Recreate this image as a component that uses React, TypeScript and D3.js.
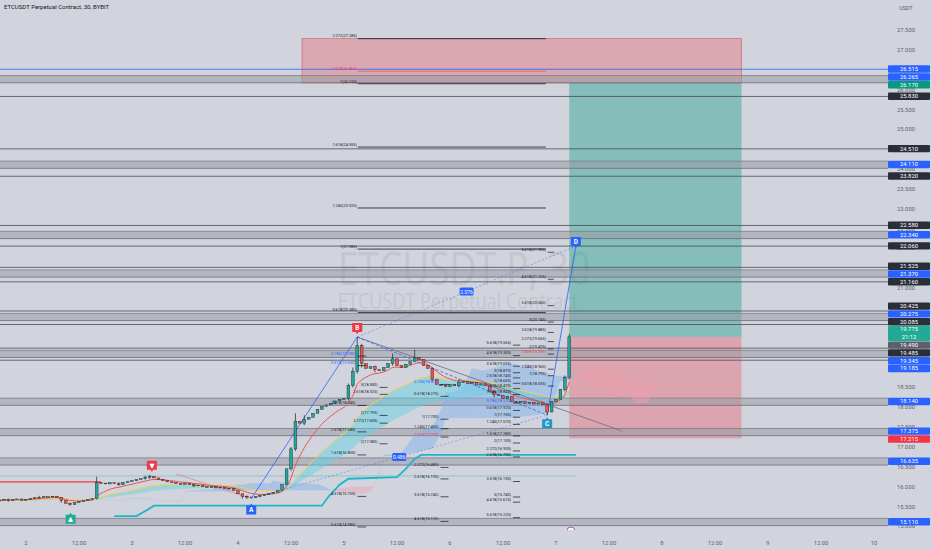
import React from "react";
import * as d3 from "d3";

const W = 932;
const H = 550;
const PLOT_R = 888;

// hourly candles, first one opens at day 1 18:00 (hour -6 counted from day 2 00:00)
const firstHour = -6;
const closes = [
  15.66, 15.68, 15.65, 15.67, 15.69, 15.66, 15.68,
  15.70, 15.72, 15.73, 15.75, 15.74, 15.76, 15.73,
  15.65, 15.58, 15.55,
  15.60, 15.63, 15.66, 15.68, 15.70,
  16.10,
  16.09, 16.07, 16.10, 16.08, 16.05, 16.11, 16.13,
  16.15, 16.18, 16.20, 16.24, 16.26, 16.22,
  16.18, 16.15, 16.12, 16.10, 16.08,
  16.06, 16.09, 16.05, 16.02, 16.04, 16.00, 15.98,
  16.01, 15.97, 15.99, 15.95, 15.96,
  15.90, 15.82, 15.76, 15.74,
  15.72, 15.75, 15.78, 15.80, 15.83, 15.86,
  15.90, 16.05, 16.45, 16.95, 17.65, 17.60, 17.70, 17.75,
  17.85, 17.95, 18.02, 18.06,
  18.10, 18.16, 18.20, 18.22,
  18.55, 18.90, 19.55, 19.10,
  18.98, 19.02, 18.95, 18.92,
  19.00, 19.10, 19.22,
  19.05, 19.00, 19.08,
  19.15, 19.25, 19.20,
  19.05, 18.98,
  18.70, 18.58, 18.55,
  18.52, 18.58, 18.54, 18.62,
  18.66, 18.60, 18.63,
  18.56, 18.59, 18.54,
  18.40, 18.32, 18.30,
  18.22, 18.28, 18.15,
  18.12, 18.14, 18.10, 18.12,
  18.08, 18.11, 18.06,
  17.88, 18.15, 18.20, 18.45, 18.75, 19.775,
];
// [candle index, high, low] where the wick goes past the body
const wicks: [number, number, number][] = [
  [2, 15.70, 15.62], [9, 15.77, 15.70], [14, 15.74, 15.60], [16, 15.60, 15.52],
  [22, 16.25, 15.68], [27, 16.11, 16.02], [33, 16.28, 16.18], [34, 16.30, 16.20],
  [44, 16.08, 15.99], [55, 15.80, 15.70], [56, 15.78, 15.69], [66, 17.00, 16.40],
  [67, 17.85, 16.90], [69, 17.80, 17.55], [79, 18.60, 18.18], [80, 19.00, 18.50],
  [81, 19.77, 18.85], [82, 19.60, 19.00], [85, 19.05, 18.88], [89, 19.35, 19.05],
  [94, 19.45, 19.15], [98, 19.00, 18.65], [104, 18.70, 18.50], [112, 18.42, 18.25],
  [124, 18.10, 17.80], [128, 18.80, 18.40], [129, 19.85, 18.70],
];

const xTicks: [number, string][] = [
  [0, "2"], [12, "12:00"], [24, "3"], [36, "12:00"], [48, "4"], [60, "12:00"],
  [72, "5"], [84, "12:00"], [96, "6"], [108, "12:00"], [120, "7"], [132, "12:00"],
  [144, "8"], [156, "12:00"], [168, "9"], [180, "12:00"], [192, "10"],
];
const yTicks = [
  27.5, 27, 26.5, 26, 25.5, 25, 24.5, 24, 23.5, 23, 22.5, 22, 21.5, 21, 20.5, 20,
  19.5, 19, 18.5, 18, 17.5, 17, 16.5, 16, 15.5, 15,
];

// horizontal levels
const bandLevels = [26.265, 24.11, 22.34, 21.37, 20.275, 19.345, 18.14, 17.375, 16.635, 15.11];
const lineLevels = [25.83, 24.51, 23.82, 22.58, 22.06, 21.525, 21.16, 20.425, 20.085, 19.49, 19.185];
const blueLevel = 26.515;

// price scale labels [price, kind]
const priceTags: [number, string][] = [
  [26.515, "blue"], [26.265, "blue"], [26.17, "green"], [25.83, "dark"],
  [24.51, "dark"], [24.11, "blue"], [23.82, "dark"], [22.58, "dark"],
  [22.34, "blue"], [22.06, "dark"], [21.525, "dark"], [21.37, "blue"],
  [21.16, "dark"], [20.425, "dark"], [20.275, "blue"], [20.085, "dark"],
  [19.775, "last"], [19.49, "gray"], [19.485, "dark"], [19.345, "blue"],
  [19.185, "blue"], [18.14, "blue"], [17.375, "blue"], [17.215, "red"],
  [16.635, "blue"], [15.11, "blue"],
];

// long position tool
const entryPrice = 19.775;
const targetPrice = 26.17;
const stopPrice = 17.215;
const positionHours = [123, 162];
const zoneTop = 27.285;
const zoneHours = [62.5, 162];

// harmonic ABCD points [hour, price]
const pA: [number, number] = [51, 15.7];
const pB: [number, number] = [75, 19.77];
const pC: [number, number] = [118, 17.8];
const pD: [number, number] = [124.5, 22.06];
const trendEnd: [number, number] = [135, 17.4];

// cyan trailing line [hour, price]
const trail: [number, number][] = [
  [20, 15.26], [25, 15.26], [27.5, 15.42], [29, 15.52], [67, 15.52], [68.5, 15.75],
  [71, 16.05], [73, 16.2], [84, 16.24], [86, 16.45], [88, 16.7], [89.5, 16.8], [124.5, 16.8],
];

// fib labels, each group anchored at an hour [ratio, price, colour]
const fibTop: [string, number, string][] = [
  ["2.272", 27.285, "k"], ["2.618", 26.465, "r"], ["1", 26.15, "k"],
  ["1.618", 24.555, "k"], ["1.245", 23.02, "k"], ["1", 21.985, "k"], ["0.618", 20.385, "k"],
];
const fibRight: [string, number, string][] = [
  ["5.618", 21.905, "k"], ["4.618", 21.225, "k"], ["3.618", 20.56, "k"], ["3", 20.145, "k"],
  ["2.618", 19.885, "k"], ["2.272", 19.655, "k"], ["2", 19.47, "k"], ["1.809", 19.339, "r"],
  ["1.245", 18.96, "k"], ["1", 18.795, "k"], ["0.618", 18.535, "k"],
];
const fibMid: [string, number, string][] = [
  ["5.618", 19.565, "k"], ["4.618", 19.3, "k"], ["3.618", 19.035, "k"], ["3", 18.87, "k"],
  ["2.618", 18.74, "k"], ["2", 18.605, "k"], ["1.618", 18.47, "k"],
  ["1.245", 18.32, "k"], ["0.786", 18.11, "b"], ["0.618", 17.92, "k"], ["1", 17.75, "k"],
  ["1.245", 17.57, "k"], ["1.618", 17.28, "k"], ["2", 17.1, "k"], ["2.272", 16.9, "k"],
  ["2.618", 16.75, "k"], ["3.618", 16.13, "k"], ["5", 15.74, "k"], ["4.618", 15.61, "k"],
  ["5.618", 15.22, "k"],
];
const fibLeft: [string, number, string][] = [
  ["0.786", 19.29, "b"], ["0.618", 19.05, "b"], ["1.618", 18.045, "k"], ["2.618", 17.38, "k"],
  ["1.618", 16.8, "k"], ["4.618", 15.755, "k"], ["5.618", 14.985, "k"],
];
const fibLeft2: [string, number, string][] = [
  ["3", 18.5, "k"], ["2.618", 18.325, "k"], ["2", 17.795, "k"], ["2.272", 17.6, "k"],
  ["2", 17.08, "k"],
];
const fibCenter: [string, number, string][] = [
  ["0.236", 18.575, "b"], ["0.618", 18.275, "k"], ["1", 17.7, "k"], ["1.245", 17.46, "k"],
  ["1.618", 17.25, "r"], ["2.272", 16.485, "k"], ["2.618", 16.195, "k"], ["3.618", 15.745, "k"],
  ["4.618", 15.125, "k"],
];
const fibGroups: { hour: number; items: [string, number, string][]; dash: number }[] = [
  { hour: 74.9, items: fibTop, dash: 0 },
  { hour: 117.7, items: fibRight, dash: 1.5 },
  { hour: 109.8, items: fibMid, dash: 1.8 },
  { hour: 74.6, items: fibLeft, dash: 2.2 },
  { hour: 79.6, items: fibLeft2, dash: 2 },
  { hour: 93.4, items: fibCenter, dash: 2 },
];

const FONT = "Roboto, 'DejaVu Sans', sans-serif";
const tagColor: Record<string, string> = {
  blue: "#2962ff", green: "#089981", dark: "#2a2e39", gray: "#5d606b",
  red: "#f23645", last: "#22ab94",
};
const fibColor: Record<string, string> = { k: "#131722", r: "#f23645", b: "#2962ff" };

function ema(values: number[], n: number) {
  const k = 2 / (n + 1);
  const out: number[] = [];
  values.forEach((v, i) => out.push(i === 0 ? v : v * k + out[i - 1] * (1 - k)));
  return out;
}

function midline(highs: number[], lows: number[], n: number) {
  return highs.map((_, i) => {
    const s = Math.max(0, i - n + 1);
    return (d3.max(highs.slice(s, i + 1))! + d3.min(lows.slice(s, i + 1))!) / 2;
  });
}

export default function App() {
  const x = d3.scaleLinear().domain([0, 192]).range([26, 874]);
  const y = d3.scaleLinear().domain([27, 15.11]).range([50, 522]);

  const candles = closes.map((c, i) => {
    const o = i === 0 ? c : closes[i - 1];
    const w = wicks.find((d) => d[0] === i);
    const hi = Math.max(o, c, w ? w[1] : -Infinity);
    const lo = Math.min(o, c, w ? w[2] : Infinity);
    return { h: firstHour + i, o, c, hi, lo };
  });
  const hours = candles.map((d) => d.h);
  const highs = candles.map((d) => d.hi);
  const lows = candles.map((d) => d.lo);

  const emaFast = ema(closes, 8);
  const emaSlow = ema(closes, 22);
  const emaSlower = ema(closes, 45);

  const line = d3
    .line<[number, number]>()
    .x((d) => x(d[0]))
    .y((d) => y(d[1]))
    .curve(d3.curveMonotoneX);

  // ribbon between two series, coloured by which is on top
  const ribbon = (a: number[], b: number[], shift: number, up: string, down: string, op: number, key: string) =>
    a.slice(1).map((_, j) => {
      const i = j + 1;
      const pts = [
        [x(hours[i - 1] + shift), y(a[i - 1])],
        [x(hours[i] + shift), y(a[i])],
        [x(hours[i] + shift), y(b[i])],
        [x(hours[i - 1] + shift), y(b[i - 1])],
      ];
      const isUp = a[i] + a[i - 1] >= b[i] + b[i - 1];
      return (
        <polygon
          key={key + i}
          points={pts.map((p) => p.join(",")).join(" ")}
          fill={isUp ? up : down}
          opacity={op}
          stroke={isUp ? up : down}
          strokeWidth={0.3}
          strokeOpacity={op}
        />
      );
    });

  const tenkan = midline(highs, lows, 7);
  const kijun = midline(highs, lows, 20);
  const spanA = tenkan.map((t, i) => (t + kijun[i]) / 2);
  const spanB = midline(highs, lows, 40);

  // price tag layout, clusters kept centred on their prices
  const tagH = 7.8;
  const tags = priceTags.map(([p, kind]) => ({ p, kind, y: y(p), h: kind === "last" ? tagH * 2 : tagH }));
  type Cl = { items: typeof tags; top: number };
  let clusters: Cl[] = tags.map((t) => ({ items: [t], top: t.y - t.h / 2 }));
  for (let iter = 0; iter < 30; iter++) {
    let merged = false;
    const next: Cl[] = [];
    for (const c of clusters) {
      const prev = next[next.length - 1];
      if (prev) {
        const prevH = d3.sum(prev.items, (d) => d.h);
        if (prev.top + prevH > c.top) {
          const items = prev.items.concat(c.items);
          const total = d3.sum(items, (d) => d.h);
          const centre = d3.mean(items, (d) => d.y)!;
          next[next.length - 1] = { items, top: centre - total / 2 };
          merged = true;
          continue;
        }
      }
      next.push(c);
    }
    clusters = next;
    if (!merged) break;
  }
  const placed: { p: number; kind: string; top: number; h: number }[] = [];
  clusters.forEach((c) => {
    let t = c.top;
    c.items.forEach((it) => {
      placed.push({ p: it.p, kind: it.kind, top: t, h: it.h });
      t += it.h;
    });
  });

  const label = (pt: [number, number]) => [x(pt[0]), y(pt[1])];
  const [ax, ay] = label(pA);
  const [bx, by] = label(pB);
  const [cx, cy] = label(pC);
  const [dx, dy] = label(pD);
  const [tx, ty] = label(trendEnd);

  const marker = (mx: number, my: number, fill: string, text: string, down = false, key = "") => (
    <g key={key} transform={`translate(${mx},${my})`}>
      <path
        d={down ? "M-5,-5 H5 V4 H1.5 L0,6 L-1.5,4 H-5 Z" : "M-5,5 H5 V-4 H1.5 L0,-6 L-1.5,-4 H-5 Z"}
        fill={fill}
      />
      <text x={0} y={2.3} textAnchor="middle" fontSize={6.5} fontWeight={700} fill="#fff" fontFamily={FONT}>
        {text}
      </text>
    </g>
  );

  const px0 = x(positionHours[0]);
  const px1 = x(positionHours[1]);

  return (
    <svg
      width={W}
      height={H}
      style={{ position: "fixed", left: 0, top: 0, background: "#d1d4dc" }}
      fontFamily={FONT}
    >
      <rect width={W} height={H} fill="#d1d4dc" />
      <defs>
        <clipPath id="plot">
          <rect x={0} y={0} width={PLOT_R} height={530} />
        </clipPath>
      </defs>

      {/* watermark */}
      <text x={338} y={285} fontSize={46} textLength={252} lengthAdjust="spacingAndGlyphs" fill="#c3c6ce" fontFamily="'Open Sans', sans-serif">
        ETCUSDT.P, 30
      </text>
      <text x={338} y={309} fontSize={21} textLength={240} lengthAdjust="spacingAndGlyphs" fill="#c3c6ce" fontFamily="'Open Sans', sans-serif">
        ETCUSDT Perpetual Contract
      </text>

      <g clipPath="url(#plot)">
        {/* target zone and position boxes */}
        <rect
          x={x(zoneHours[0])}
          y={y(zoneTop)}
          width={x(zoneHours[1]) - x(zoneHours[0])}
          height={y(targetPrice) - y(zoneTop)}
          fill="#f23645"
          fillOpacity={0.28}
          stroke="#d05a66"
          strokeWidth={0.6}
        />
        <rect x={px0} y={y(targetPrice)} width={px1 - px0} height={y(entryPrice) - y(targetPrice)} fill="#089981" fillOpacity={0.38} />
        <rect x={px0} y={y(entryPrice)} width={px1 - px0} height={y(stopPrice) - y(entryPrice)} fill="#f23645" fillOpacity={0.3} />

        {/* support / resistance bands */}
        {bandLevels.map((p) => (
          <g key={"b" + p}>
            <rect x={0} y={y(p) - 3.6} width={PLOT_R} height={7.2} fill="#9a9da7" fillOpacity={0.55} />
            <line x1={0} x2={PLOT_R} y1={y(p) - 3.6} y2={y(p) - 3.6} stroke="#7b7e88" strokeWidth={0.8} />
            <line x1={0} x2={PLOT_R} y1={y(p) + 3.6} y2={y(p) + 3.6} stroke="#6c6f79" strokeWidth={0.8} />
          </g>
        ))}
        {lineLevels.map((p) => (
          <line key={"l" + p} x1={0} x2={PLOT_R} y1={y(p)} y2={y(p)} stroke="#4a4d57" strokeWidth={0.8} />
        ))}
        <line x1={0} x2={PLOT_R} y1={y(blueLevel)} y2={y(blueLevel)} stroke="#2962ff" strokeWidth={0.8} />

        {/* clouds */}
        {ribbon(spanA, spanB, 20, "#7fb2f0", "#f0a0b0", 0.45, "k")}
        {ribbon(emaSlow, emaSlower, 0, "#5fd3e6", "#f4a3b8", 0.45, "e")}

        {/* red line, thin teal line */}
        <line x1={0} x2={x(17)} y1={y(16.12)} y2={y(16.12)} stroke="#f23645" strokeWidth={1.2} />
        <line x1={0} x2={x(124.5)} y1={y(16.27)} y2={y(16.27)} stroke="#5fc3c9" strokeWidth={0.7} />

        {/* cyan trailing line */}
        <path d={d3.line<[number, number]>().x((d) => x(d[0])).y((d) => y(d[1]))(trail)!} fill="none" stroke="#1fb5c9" strokeWidth={1.8} />

        {/* emas */}
        <path d={line(emaSlow.map((v, i) => [hours[i], v]))!} fill="none" stroke="#f5d24a" strokeWidth={1} />
        <path d={line(emaFast.map((v, i) => [hours[i], v]))!} fill="none" stroke="#ef5350" strokeWidth={1} />

        {/* pattern lines */}
        <line x1={bx} y1={by} x2={tx} y2={ty} stroke="#6a6d78" strokeWidth={0.8} />
        <line x1={ax} y1={ay} x2={bx} y2={by} stroke="#2962ff" strokeWidth={0.8} />
        <line x1={bx} y1={by} x2={cx} y2={cy} stroke="#2962ff" strokeWidth={0.8} strokeDasharray="3,2" />
        <line x1={cx} y1={cy} x2={dx} y2={dy} stroke="#2962ff" strokeWidth={0.8} />
        <line x1={ax} y1={ay} x2={cx} y2={cy} stroke="#5b7ff5" strokeWidth={0.6} strokeDasharray="2,2" />
        <line x1={bx} y1={by} x2={dx} y2={dy} stroke="#5b7ff5" strokeWidth={0.6} strokeDasharray="2,2" />
        <line x1={x(34)} y1={y(16.32)} x2={ax} y2={ay} stroke="#e07080" strokeWidth={0.6} />

        {/* candles */}
        {candles.map((d, i) => {
          const cxp = x(d.h);
          const up = d.c >= d.o;
          const top = y(Math.max(d.o, d.c));
          const bh = Math.max(0.8, y(Math.min(d.o, d.c)) - top);
          return (
            <g key={"c" + i}>
              <line x1={cxp} x2={cxp} y1={y(d.hi)} y2={y(d.lo)} stroke="#1b1d22" strokeWidth={0.7} />
              <rect x={cxp - 1.4} y={top} width={2.8} height={bh} fill={up ? "#26a69a" : "#ef5350"} stroke="#1b1d22" strokeWidth={0.4} />
            </g>
          );
        })}

        {/* fib labels */}
        {fibGroups.map((g, gi) => {
          const ex = x(g.hour);
          return g.items.map(([r, p, c], j) => (
            <g key={`f${gi}-${j}`}>
              <text x={ex} y={y(p) - 1.2} textAnchor="end" fontSize={3.9} fill={fibColor[c]}>
                {`${r}(${p.toFixed(3)})`}
              </text>
              {g.dash > 0 ? (
                <line x1={ex + 2} x2={ex + 2 + g.dash * 4} y1={y(p)} y2={y(p)} stroke="#131722" strokeWidth={0.7} />
              ) : (
                <line x1={ex + 1} x2={x(117.7)} y1={y(p)} y2={y(p)} stroke={c === "r" ? "#e06070" : "#131722"} strokeWidth={0.8} />
              )}
            </g>
          ));
        })}

        {/* ratio tags */}
        {[
          { t: "0.486", m: [(ax + cx) / 2, (ay + cy) / 2] },
          { t: "2.076", m: [(bx + dx) / 2, (by + dy) / 2] },
        ].map((d) => (
          <g key={d.t}>
            <rect x={d.m[0] - 7} y={d.m[1] - 4} width={14} height={8} rx={1.5} fill="#2962ff" />
            <text x={d.m[0]} y={d.m[1] + 2} textAnchor="middle" fontSize={5} fill="#fff">
              {d.t}
            </text>
          </g>
        ))}

        {/* pattern and signal markers */}
        {marker(x(10.1), y(15.52) + 13, "#22ab94", "▲", false, "m1")}
        {marker(x(28.5), y(16.3) - 9, "#f23645", "▼", true, "m2")}
        {marker(ax, ay + 11, "#2962ff", "A", false, "mA")}
        {marker(bx, by - 9, "#f23645", "B", true, "mB")}
        {marker(cx, cy + 8, "#2196c9", "C", false, "mC")}
        {marker(dx, dy - 4, "#2962ff", "D", true, "mD")}

        <circle cx={571} cy={531} r={4} fill="#fff" stroke="#9c27b0" strokeWidth={0.8} />
        <text x={571} y={533} textAnchor="middle" fontSize={5} fill="#9c27b0">
          ⚡
        </text>
      </g>

      {/* title */}
      <text x={4} y={9} fontSize={6} fill="#131722">
        ETCUSDT Perpetual Contract, 30, BYBIT
      </text>

      {/* price axis */}
      <text x={906} y={10} textAnchor="middle" fontSize={5.5} fill="#5d606b">
        USDT
      </text>
      {yTicks.map((t) => (
        <text key={"yt" + t} x={906} y={y(t) + 2} textAnchor="middle" fontSize={5.8} fill="#5d606b">
          {t.toFixed(3)}
        </text>
      ))}
      {placed.map((d) => (
        <g key={"tag" + d.p + d.kind}>
          <rect x={888} y={d.top} width={42} height={d.h - 0.4} rx={1} fill={tagColor[d.kind]} />
          <text x={909} y={d.top + 5.6} textAnchor="middle" fontSize={5.8} fill="#fff">
            {d.p.toFixed(3)}
          </text>
          {d.kind === "last" && (
            <text x={909} y={d.top + 13.2} textAnchor="middle" fontSize={5.8} fill="#fff">
              21:12
            </text>
          )}
        </g>
      ))}

      {/* time axis */}
      {xTicks.map(([h, s]) => (
        <text key={"xt" + h} x={x(h)} y={545} textAnchor="middle" fontSize={5.8} fill="#5d606b">
          {s}
        </text>
      ))}
    </svg>
  );
}
